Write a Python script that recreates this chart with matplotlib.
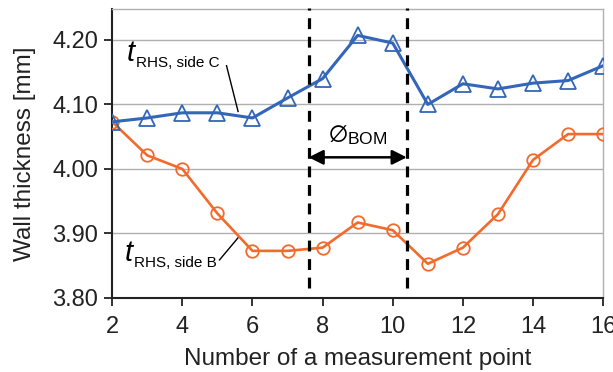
import matplotlib
matplotlib.use("Agg")
import matplotlib.pyplot as plt

plt.rcParams["font.family"] = ["Liberation Sans", "DejaVu Sans"]
plt.rcParams["mathtext.fontset"] = "custom"
plt.rcParams["mathtext.rm"] = "Liberation Sans"
plt.rcParams["mathtext.it"] = "Liberation Sans:italic"

# measurement points and wall thickness readings [mm]
points = [2, 3, 4, 5, 6, 7, 8, 9, 10, 11, 12, 13, 14, 15, 16]
side_c = [4.073, 4.079, 4.087, 4.087, 4.079, 4.110, 4.140, 4.207, 4.195,
          4.100, 4.132, 4.124, 4.133, 4.137, 4.160]
side_b = [4.073, 4.021, 4.000, 3.931, 3.873, 3.873, 3.878, 3.917, 3.905,
          3.853, 3.878, 3.930, 4.014, 4.054, 4.054]
bom_edges = [7.6, 10.4]
x_ticks = [2, 4, 6, 8, 10, 12, 14, 16]
y_ticks = [3.80, 3.90, 4.00, 4.10, 4.20]

blue = "#3366b8"
orange = "#f26a2c"
dark = "#222222"

fig = plt.figure(figsize=(6.13, 3.72), dpi=100)
ax = fig.add_axes([0.183, 0.199, 0.801, 0.777])

ax.plot(points, side_c, color=blue, lw=2.2, marker="^", ms=11,
        mfc="none", mec=blue, mew=1.3, zorder=4)
ax.plot(points, side_b, color=orange, lw=1.9, marker="o", ms=9,
        mfc="none", mec=orange, mew=1.3, zorder=3)

# boundaries of the BOM zone
for xe in bom_edges:
    ax.plot([xe, xe], [3.815, 4.25], color="black", lw=2.3,
            ls=(0, (3.4, 2.4)), zorder=5, clip_on=False)

ax.annotate("", xy=(bom_edges[0], 4.018), xytext=(bom_edges[1], 4.018),
            arrowprops=dict(arrowstyle="<|-|>", color="black", lw=1.8,
                            mutation_scale=22, shrinkA=0, shrinkB=0))
ax.text(9.0, 4.052, r"$\varnothing_{\mathrm{BOM}}$", ha="center",
        va="center", fontsize=18)


def series_label(x, y, sub):
    """Italic t with a plain subscript, baseline at (x, y)."""
    ax.text(x, y, "t", fontsize=21, style="italic", ha="left",
            va="baseline", color="black")
    ax.annotate(sub, xy=(x, y), xytext=(6.2, -4), textcoords="offset points",
                fontsize=11, ha="left", va="baseline", color="black")


# series labels with leader lines
ax.plot([5.26, 5.59], [4.160, 4.089], color="black", lw=1)
series_label(2.42, 4.167, "RHS, side C")
ax.plot([5.06, 5.60], [3.859, 3.894], color="black", lw=1)
series_label(2.37, 3.857, "RHS, side B")

ax.set_xlim(2, 16)
ax.set_ylim(3.80, 4.248)
ax.set_xticks(x_ticks)
ax.set_yticks(y_ticks)
ax.set_yticklabels([f"{v:.2f}" for v in y_ticks])
ax.grid(axis="y", color="#b0b0b0", lw=1)
ax.set_axisbelow(True)
ax.tick_params(labelsize=17, direction="out", length=6, width=1.3,
               colors=dark)
ax.tick_params(axis="x", pad=7)
ax.tick_params(axis="y", pad=4)
for side in ["left", "bottom"]:
    ax.spines[side].set_color(dark)
    ax.spines[side].set_linewidth(1.5)
for side in ["top", "right"]:
    ax.spines[side].set_color("#b0b0b0")
    ax.spines[side].set_linewidth(1)

ax.set_xlabel("Number of a measurement point", fontsize=17.5, color=dark,
              labelpad=7)
ax.set_ylabel("Wall thickness [mm]", fontsize=17.5, color=dark,
              labelpad=12)

fig.savefig("out.png", dpi=100)
